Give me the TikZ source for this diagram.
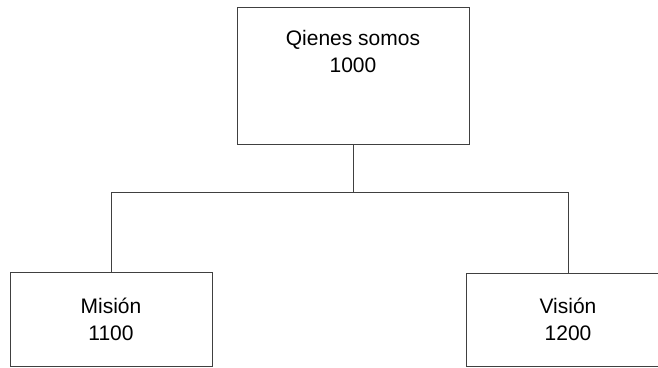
\documentclass[tikz,border=0pt]{standalone}
\usepackage{fontspec}
\setmainfont{Liberation Sans}
\usetikzlibrary{positioning}

\begin{document}
\begin{tikzpicture}[
    x=1pt, y=-1pt,
    font=\fontsize{21}{27}\selectfont,
    box/.style={draw=black!75, line width=0.9pt, align=center},
    link/.style={draw=black!75, line width=0.9pt}
]
\useasboundingbox (0,0) rectangle (658,367);

\node[box, minimum width=232pt, minimum height=137pt] (qs) at (353,75.5) {};
\node[align=center, below=20pt of qs.north] (qstxt) {Qienes somos\\1000};
\node[box, minimum width=202pt, minimum height=94pt] (mision) at (111,319) {Misión\\1100};
\node[box, minimum width=204pt, minimum height=93pt] (vision) at (568,319.5) {Visión\\1200};
\coordinate (bus) at (353,192);

\draw[link] (qs.south) -- (bus);
\draw[link] (bus) -| (mision.north);
\draw[link] (bus) -| (vision.north);
\end{tikzpicture}
\end{document}
